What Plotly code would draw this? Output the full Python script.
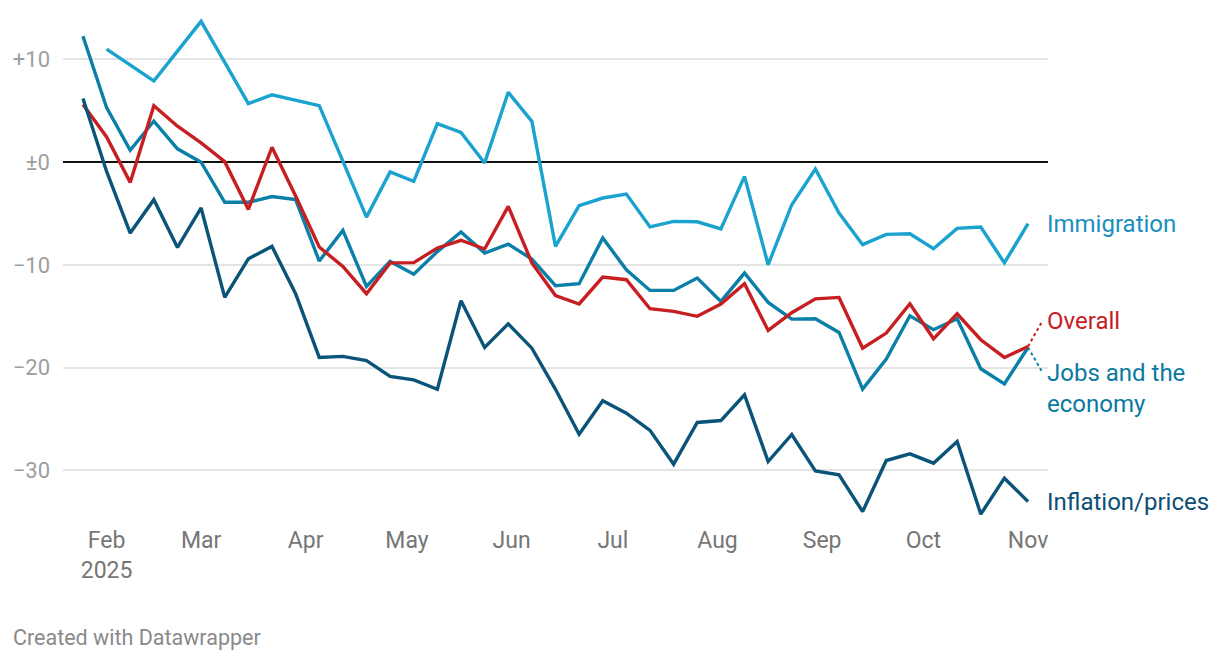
import pandas as pd
import plotly.graph_objects as go

dates = pd.date_range("2025-01-25", periods=41, freq="7D")

immigration = [None, 11.0, 9.4, 7.9, 10.8, 13.7, 9.7, 5.7, 6.55, 6.0, 5.5, 0.1, -5.35, -0.95, -1.87,
               3.75, 2.9, -0.08, 6.8, 3.97, -8.2, -4.24, -3.49, -3.1, -6.3, -5.76, -5.8, -6.5, -1.38,
               -9.98, -4.14, -0.66, -4.95, -8.03, -7.03, -6.96, -8.42, -6.44, -6.31, -9.8, -5.99]
jobs = [12.25, 5.3, 1.15, 4.0, 1.3, 0.0, -3.9, -3.9, -3.35, -3.65, -9.62, -6.64, -12.1, -9.66, -10.9,
        -8.7, -6.8, -8.85, -7.97, -9.43, -12.02, -11.83, -7.38, -10.47, -12.48, -12.48, -11.28, -13.55,
        -10.79, -13.65, -15.27, -15.24, -16.57, -22.08, -19.16, -14.95, -16.3, -15.24, -20.1, -21.57, -18.03]
overall = [5.6, 2.45, -1.97, 5.5, 3.5, 1.87, 0.05, -4.6, 1.45, -3.3, -8.26, -10.15, -12.8, -9.8, -9.78,
           -8.35, -7.6, -8.45, -4.3, -9.8, -12.98, -13.8, -11.18, -11.44, -14.26, -14.52, -15.0, -13.8,
           -11.83, -16.37, -14.65, -13.3, -13.16, -18.1, -16.63, -13.78, -17.19, -14.75, -17.28, -19.0, -17.93]
inflation = [6.2, -0.9, -6.9, -3.65, -8.3, -4.46, -13.16, -9.4, -8.2, -12.8, -19.0, -18.9, -19.3, -20.85,
             -21.18, -22.1, -13.49, -18.03, -15.73, -18.1, -22.1, -26.47, -23.22, -24.42, -26.1, -29.39,
             -25.33, -25.14, -22.64, -29.13, -26.5, -30.04, -30.43, -34.0, -29.03, -28.38, -29.29, -27.18,
             -34.25, -30.75, -33.03]

tick_dates = pd.date_range("2025-02-01", periods=10, freq="MS")
tick_text = ["Feb<br>2025", "Mar", "Apr", "May", "Jun", "Jul", "Aug", "Sep", "Oct", "Nov"]
y_ticks = [10, 0, -10, -20, -30]
y_text = ["+10", "±0", "−10", "−20", "−30"]

series = [
    ("Immigration", immigration, "#1aa3cf", "#1a8fbd", -5.99, None),
    ("Jobs and the<br>economy", jobs, "#0a7fa8", "#0a79a2", -22.0, -20.3),
    ("Overall", overall, "#c71f21", "#c61c1f", -15.5, -15.6),
    ("Inflation/prices", inflation, "#0a5479", "#0b4f74", -33.03, None),
]

fig = go.Figure()
for name, vals, col, tcol, ly, conn in series:
    fig.add_trace(go.Scatter(x=dates, y=vals, mode="lines", name=name,
                             line=dict(color=col, width=3.4), connectgaps=False,
                             hoverinfo="skip", showlegend=False))
    if conn is not None:
        fig.add_trace(go.Scatter(x=[dates[-1], dates[-1] + pd.Timedelta(days=4)],
                                 y=[vals[-1], conn], mode="lines",
                                 line=dict(color=col, width=2, dash="dot"),
                                 hoverinfo="skip", showlegend=False))
    fig.add_annotation(x=dates[-1], y=ly, xref="x", yref="y", text=name, showarrow=False,
                       xanchor="left", yanchor="middle", xshift=17, align="left",
                       font=dict(family="Roboto", size=24, color=tcol))

fig.add_annotation(xref="paper", yref="paper", x=0, y=-0.212, xshift=-52, text="Created with Datawrapper",
                   showarrow=False, xanchor="left", yanchor="middle",
                   font=dict(family="Roboto", size=21.5, color="#8a8a8a"))

fig.update_layout(
    width=1220, height=662,
    margin=dict(l=55, r=180, t=0, b=143),
    paper_bgcolor="white", plot_bgcolor="white",
    font=dict(family="Roboto"),
    xaxis=dict(range=[pd.Timestamp("2025-01-19 02:00"), pd.Timestamp("2025-11-06 22:00")],
               tickvals=tick_dates, ticktext=tick_text, showgrid=False, zeroline=False,
               showline=False, ticks="", ticklabelstandoff=-3,
               tickfont=dict(family="Roboto", size=23, color="#767676")),
    yaxis=dict(range=[-35.5, 15], tickvals=y_ticks, ticktext=y_text, showgrid=True,
               gridcolor="#e4e4e4", gridwidth=1.6, zeroline=True, zerolinecolor="#111111",
               zerolinewidth=2, showline=False, ticks="", ticklabelstandoff=12,
               tickfont=dict(family="Roboto", size=22, color="#9e9e9e")),
)

fig.write_html("out.html")
